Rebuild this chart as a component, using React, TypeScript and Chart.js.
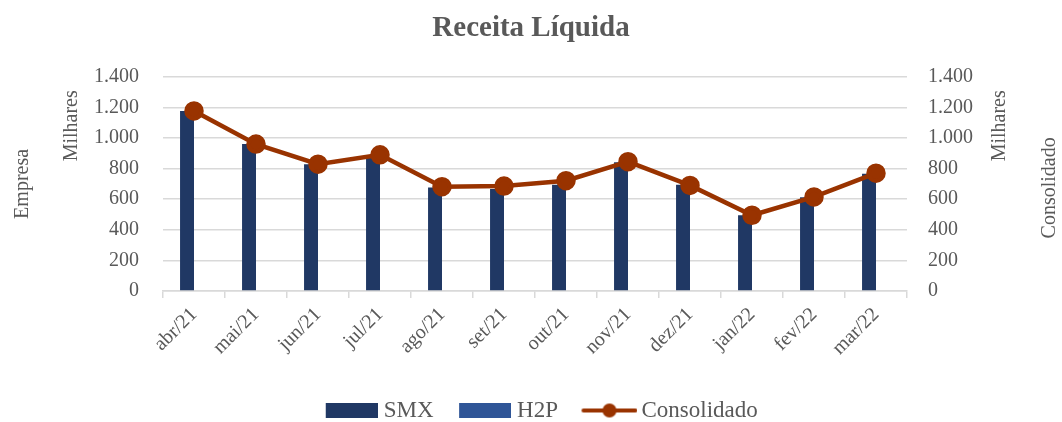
import React, { useEffect, useRef } from "react";
import { Chart, registerables } from "chart.js";

Chart.register(...registerables);

const categories = [
  "abr/21", "mai/21", "jun/21", "jul/21", "ago/21", "set/21",
  "out/21", "nov/21", "dez/21", "jan/22", "fev/22", "mar/22",
];
const smxValues = [1177, 960, 829, 870, 677, 667, 695, 842, 695, 495, 612, 767];
const h2pValues: (number | null)[] = [null, null, null, null, null, null, null, null, null, null, null, null];
const consolidadoValues = [1177, 960, 829, 890, 682, 686, 721, 845, 690, 495, 615, 770];
const axisMin = 0;
const axisMax = 1400;
const axisStep = 200;

const FONT = "'Liberation Serif', 'DejaVu Serif', serif";
const TEXT = "#595959";
const GRID = "#d9d9d9";
const SMX_COLOR = "#203864";
const H2P_COLOR = "#2F5597";
const LINE_COLOR = "#993300";

const fmt = (v: number) => {
  const s = Math.round(v).toString();
  return s.replace(/\B(?=(\d{3})+(?!\d))/g, ".");
};

const LEG_BW = 68;

// image centred on the legend box slot; content ends "ext" px past the slot's right edge
function makeBoxImage(color: string, ext: number, w: number, h: number) {
  const W = LEG_BW + 2 * ext;
  const c = document.createElement("canvas");
  c.width = W;
  c.height = h;
  const ctx = c.getContext("2d")!;
  ctx.fillStyle = color;
  ctx.fillRect(W - w, 0, w, h);
  return c;
}

function makeLineImage(color: string, ext: number, w: number, h: number) {
  const W = LEG_BW + 2 * ext;
  const c = document.createElement("canvas");
  c.width = W;
  c.height = h;
  const ctx = c.getContext("2d")!;
  const x0 = W - w;
  ctx.strokeStyle = color;
  ctx.lineWidth = 4;
  ctx.lineCap = "round";
  ctx.beginPath();
  ctx.moveTo(x0 + 2, h / 2);
  ctx.lineTo(W - 2, h / 2);
  ctx.stroke();
  ctx.fillStyle = color;
  ctx.beginPath();
  ctx.arc(x0 + w / 2, h / 2, 7, 0, Math.PI * 2);
  ctx.fill();
  return c;
}

const extraAxisTitles = {
  id: "extraAxisTitles",
  afterDraw(chart: any) {
    const { ctx, chartArea, scales } = chart;
    const y = scales.y;
    const y1 = scales.y1;
    ctx.save();
    ctx.fillStyle = TEXT;
    ctx.font = `20px ${FONT}`;
    ctx.textAlign = "center";
    ctx.textBaseline = "middle";
    const drawRot = (text: string, x: number, yy: number) => {
      ctx.save();
      ctx.translate(x, yy);
      ctx.rotate(-Math.PI / 2);
      ctx.fillText(text, 0, 0);
      ctx.restore();
    };
    drawRot("Milhares", y.right - 91, chartArea.top + 49);
    drawRot("Milhares", y1.left + 93, chartArea.top + 49);
    drawRot("Consolidado", y1.left + 143, (chartArea.top + chartArea.bottom) / 2 + 4);
    ctx.restore();
  },
};

export default function App() {
  const canvasRef = useRef<HTMLCanvasElement | null>(null);

  useEffect(() => {
    document.body.style.margin = "0";
    const canvas = canvasRef.current!;
    const images = [
      makeBoxImage(SMX_COLOR, 5.5, 52, 15),
      makeBoxImage(H2P_COLOR, 5.5, 52, 15),
      makeLineImage(LINE_COLOR, 7.5, 56, 16),
    ];
    const chart = new Chart(canvas, {
      data: {
        labels: categories,
        datasets: [
          {
            type: "line",
            label: "Consolidado",
            data: consolidadoValues,
            yAxisID: "y1",
            borderColor: LINE_COLOR,
            backgroundColor: LINE_COLOR,
            borderWidth: 4.5,
            pointRadius: 7.5,
            pointHoverRadius: 7.5,
            pointBackgroundColor: LINE_COLOR,
            pointBorderColor: LINE_COLOR,
            tension: 0,
            order: 0,
          },
          {
            type: "bar",
            label: "SMX",
            data: smxValues,
            yAxisID: "y",
            backgroundColor: SMX_COLOR,
            barPercentage: 1,
            categoryPercentage: 0.45,
            order: 1,
          },
          {
            type: "bar",
            label: "H2P",
            data: h2pValues,
            yAxisID: "y",
            backgroundColor: H2P_COLOR,
            barPercentage: 1,
            categoryPercentage: 0.45,
            order: 1,
          },
        ],
      },
      options: {
        responsive: false,
        maintainAspectRatio: false,
        animation: false,
        layout: { padding: { top: 0, left: 0, right: 0, bottom: -10 } },
        plugins: {
          title: {
            display: true,
            text: "Receita Líquida",
            color: TEXT,
            font: { family: FONT, size: 29, weight: "bold" },
            padding: { top: 11, bottom: 31 },
          },
          legend: {
            position: "bottom",
            labels: {
              usePointStyle: true,
              pointStyleWidth: LEG_BW,
              boxHeight: 15,
              padding: 4,
              color: TEXT,
              font: { family: FONT, size: 23 },
              generateLabels(chart: any) {
                const base = Chart.defaults.plugins.legend.labels.generateLabels(chart);
                const order = ["SMX", "H2P", "Consolidado"];
                const items = base.map((it: any) => {
                  const idx = order.indexOf(it.text);
                  return { ...it, pointStyle: images[idx] };
                });
                items.sort((a: any, b: any) => order.indexOf(a.text) - order.indexOf(b.text));
                return items;
              },
            },
          },
          tooltip: { enabled: false },
        },
        scales: {
          x: {
            offset: true,
            grid: {
              display: true,
              drawOnChartArea: false,
              drawTicks: true,
              tickLength: 7,
              color: GRID,
              lineWidth: 1.5,
              offset: true,
            },
            border: { display: true, color: GRID, width: 1.5 },
            ticks: {
              maxRotation: 45,
              minRotation: 45,
              color: TEXT,
              font: { family: FONT, size: 20 },
              padding: 5,
            },
            afterFit: (s: any) => {
              s.height = 104;
            },
          },
          y: {
            position: "left",
            min: axisMin,
            max: axisMax,
            ticks: {
              stepSize: axisStep,
              color: TEXT,
              font: { family: FONT, size: 20 },
              padding: 24,
              callback: (v: any) => fmt(Number(v)),
            },
            grid: { color: GRID, lineWidth: 1.5, drawTicks: false },
            border: { display: false },
            title: {
              display: true,
              text: "Empresa",
              color: TEXT,
              font: { family: FONT, size: 20 },
              padding: { top: 11, bottom: 0 },
            },
            afterFit: (s: any) => {
              s.width = 163;
            },
          },
          y1: {
            position: "right",
            min: axisMin,
            max: axisMax,
            ticks: {
              stepSize: axisStep,
              color: TEXT,
              font: { family: FONT, size: 20 },
              padding: 21,
              callback: (v: any) => fmt(Number(v)),
            },
            grid: { display: false, drawTicks: false },
            border: { display: false },
            afterFit: (s: any) => {
              s.width = 155;
            },
          },
        },
      },
      plugins: [extraAxisTitles],
    } as any);
    return () => chart.destroy();
  }, []);

  return (
    <div style={{ position: "absolute", left: 0, top: 0, width: 1062, height: 422, background: "#fff" }}>
      <canvas ref={canvasRef} width={1062} height={422} style={{ width: 1062, height: 422 }} />
    </div>
  );
}
